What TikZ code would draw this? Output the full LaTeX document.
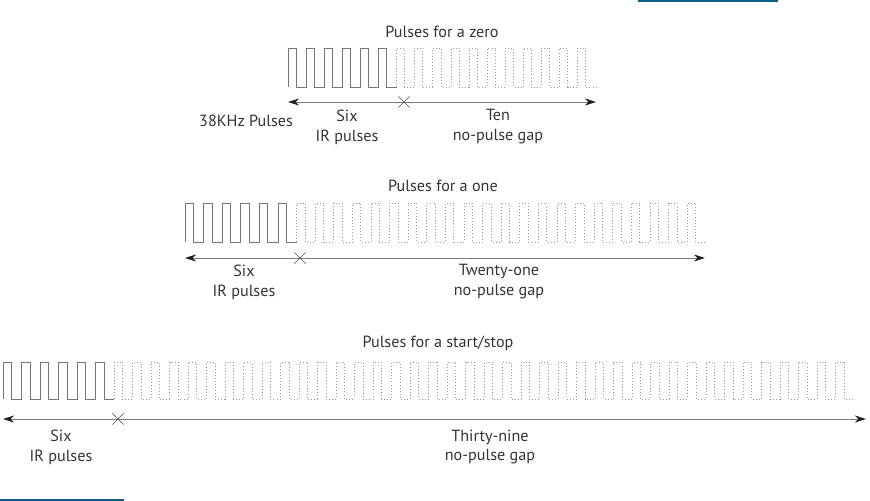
\documentclass[tikz,border=0pt]{standalone}
\usepackage{fontspec}
\setmainfont{PT Sans}
\usepackage{tikz}
\usetikzlibrary{arrows.meta, shapes.misc}
\definecolor{IRink}{HTML}{333333}
\definecolor{IRwave}{HTML}{767676}
\definecolor{IRgap}{HTML}{9A9A9A}
\definecolor{IRline}{HTML}{7A7A7A}
\definecolor{IRhead}{HTML}{1E1E1E}
\definecolor{IRblue}{HTML}{0B5E8A}

\begin{document}
\begin{tikzpicture}[x=0.3mm, y=-0.3mm,
  caption/.style={text=IRink, font=\fontsize{13.8}{17}\selectfont, align=center, inner sep=0pt},
  pulse/.style={IRwave, line width=0.6pt},
  gap/.style={IRgap, line width=0.6pt, dash pattern=on 0.7pt off 1.9pt},
  span/.style={IRline, line width=0.7pt,
    {Stealth[length=9.5pt,width=6pt,color=IRhead]}-{Stealth[length=9.5pt,width=6pt,color=IRhead]}},
  xmark/.style={cross out, draw=IRhead!80, line width=0.5pt, minimum size=9pt, inner sep=0pt}]
  \useasboundingbox (0,0) rectangle (870,501);

  % page rules
  \draw[IRblue, line width=1.7pt] (638,1) -- (778,1);
  \draw[IRblue, line width=1.7pt] (0,500) -- (124,500);

  % Pulses for a zero
  \node[caption] (zTitle) at (442,32) {Pulses for a zero};
  \draw[pulse] (288,87) \foreach \i in {1,...,6} { -- ++(0,-39) -- ++(8.1,0) -- ++(0,39) -- ++(10,0) };
  \draw[gap] (396.6,87) \foreach \i in {1,...,11} { -- ++(0,-39) -- ++(8.1,0) -- ++(0,39) -- ++(10,0) };
  \coordinate (zL) at (288,102);
  \coordinate (zR) at (596,102);
  \draw[span] (zL) -- (zR);
  \node[xmark] (zX) at (404,102) {};
  \node[caption] (zHz) at (246,121) {38KHz Pulses};
  \node[caption] (zSix) at (347,127) {Six\\IR pulses};
  \node[caption] (zTen) at (498,127) {Ten\\no-pulse gap};

  % Pulses for a one
  \node[caption] (oTitle) at (443,186) {Pulses for a one};
  \draw[pulse] (185,242) \foreach \i in {1,...,6} { -- ++(0,-39) -- ++(8.4,0) -- ++(0,39) -- ++(10.2,0) };
  \draw[gap] (296.6,242) \foreach \i in {1,...,22} { -- ++(0,-39) -- ++(8.4,0) -- ++(0,39) -- ++(10.2,0) };
  \coordinate (oL) at (185,258);
  \coordinate (oR) at (705,258);
  \draw[span] (oL) -- (oR);
  \node[xmark] (oX) at (300,258) {};
  \node[caption] (oSix) at (244,282) {Six\\IR pulses};
  \node[caption] (oTwenty) at (499,282) {Twenty-one\\no-pulse gap};

  % Pulses for a start/stop
  \node[caption] (sTitle) at (438,343) {Pulses for a start/stop};
  \draw[pulse] (3,399) \foreach \i in {1,...,6} { -- ++(0,-37) -- ++(8.4,0) -- ++(0,37) -- ++(10.1,0) };
  \draw[gap] (114,399) \foreach \i in {1,...,40} { -- ++(0,-37) -- ++(8.4,0) -- ++(0,37) -- ++(10.1,0) };
  \coordinate (sL) at (3,419);
  \coordinate (sR) at (866,419);
  \draw[span] (sL) -- (sR);
  \node[xmark] (sX) at (118,419) {};
  \node[caption] (sSix) at (61,447) {Six\\IR pulses};
  \node[caption] (sThirty) at (490,447) {Thirty-nine\\no-pulse gap};
\end{tikzpicture}
\end{document}
